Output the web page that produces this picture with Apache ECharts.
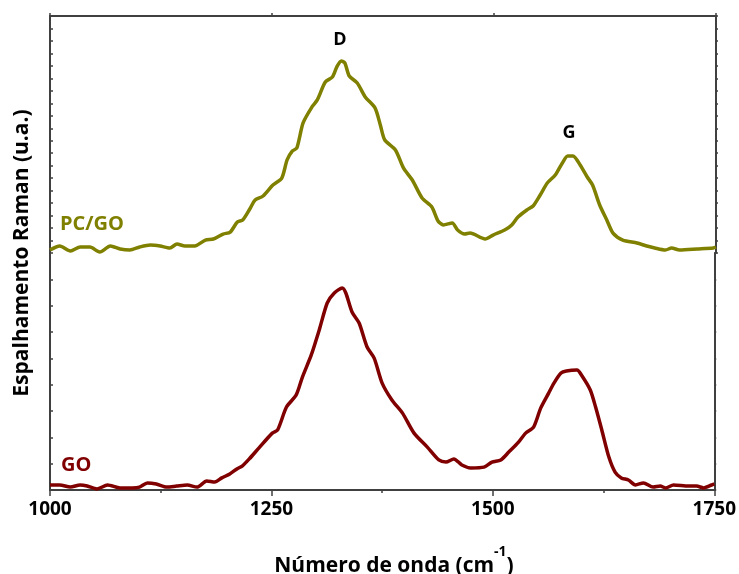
<!DOCTYPE html>
<html>
<head>
<meta charset="utf-8">
<script src="https://cdn.jsdelivr.net/npm/echarts@6/dist/echarts.min.js"></script>
<style>
html,body{margin:0;padding:0;background:#fff;}
#chart{width:739px;height:574px;}
</style>
</head>
<body>
<div id="chart"></div>
<script>
// Wavenumber axis
var xTicks = [1000, 1250, 1500, 1750];

// PC/GO spectrum (upper panel), wavenumber (cm-1) and intensity (a.u.)
var pcgoWn = [1000,1011,1023,1034,1045,1056,1068,1079,1090,1101,1113,1124,1135,1143,1152,1163,1175,1184,1195,1203,1211,1217,1225,1231,1240,1251,1261,1267,1273,1278,1285,1295,1301,1310,1318,1323,1328,1332,1337,1346,1355,1366,1372,1377,1389,1398,1408,1419,1430,1437,1443,1453,1459,1467,1473,1490,1499,1512,1520,1527,1537,1544,1552,1560,1569,1577,1583,1589,1597,1605,1611,1619,1627,1634,1645,1661,1672,1681,1693,1700,1709,1729,1747,1750];
var pcgoI  = [2.4,5.6,1.6,4.8,4.8,0.8,5.6,3.2,2.4,4.8,6.4,5.6,4.0,7.2,5.6,5.6,10.4,11.2,15.2,16.8,24.9,26.5,35.3,42.5,45.7,54.5,60.1,74.6,81.8,84.2,104.3,117.1,122.7,137.1,141.1,149.2,154.0,152.4,141.9,136.3,125.1,116.3,102.6,90.6,82.6,68.2,58.5,44.1,36.9,25.7,22.5,24.1,18.4,15.2,16.0,11.2,14.4,18.4,22.5,28.9,34.5,37.7,46.5,56.1,62.5,72.2,77.8,77.8,70.6,60.9,54.5,38.5,26.5,16.0,10.4,8.0,5.6,4.0,2.4,4.0,2.4,3.2,4.0,4.8];

// GO spectrum (lower panel)
var goWn = [1000,1011,1023,1034,1042,1053,1065,1079,1093,1101,1110,1120,1132,1143,1155,1166,1177,1186,1194,1203,1211,1217,1225,1236,1251,1257,1267,1278,1285,1295,1304,1313,1321,1330,1334,1341,1349,1358,1366,1375,1386,1398,1411,1426,1439,1447,1456,1465,1475,1490,1499,1509,1518,1529,1537,1546,1554,1563,1569,1577,1583,1595,1600,1610,1616,1623,1631,1638,1645,1653,1661,1670,1681,1689,1695,1704,1721,1730,1738,1747,1750];
var goI  = [1.9,1.9,1.1,1.9,1.5,0.4,1.9,0.8,0.8,1.1,2.7,2.3,1.1,1.5,1.9,1.1,3.4,3.0,4.6,6.1,8.0,9.1,11.8,16.0,21.6,22.8,31.5,36.1,42.9,51.3,60.8,71.0,74.8,76.7,74.8,67.6,63.4,54.3,50.1,40.6,34.2,29.2,21.6,16.3,11.4,10.6,11.8,9.5,8.4,8.7,10.6,11.4,14.4,18.2,21.6,23.9,31.1,36.8,40.6,44.4,45.2,45.6,43.7,38.0,31.5,22.8,12.5,6.8,4.6,3.8,1.9,2.7,1.1,1.5,0.8,1.9,1.5,1.5,0.8,1.9,2.3];

var seriesNames = ['PC/GO', 'GO'];
var peakNames = ['D', 'G'];
var xTitle = 'Número de onda (cm';
var xTitleSup = '-1';
var yTitle = 'Espalhamento Raman (u.a.)';

function pairs(xs, ys){ return xs.map(function(x,i){ return [x, ys[i]]; }); }

var FONT = '"Open Sans", "Liberation Sans", sans-serif';
var AX = '#404040';
var OLIVE = '#808000';
var RED = '#800000';

var chart = echarts.init(document.getElementById('chart'), null, {renderer:'canvas'});

function yAx(grid, pos, max, inside){
  return {
    type:'value', gridIndex:grid, position:pos, min:0, max:max, interval:10,
    axisLine:{show:true, onZero:false, lineStyle:{color:AX, width:2}},
    axisTick:{show:true, inside:inside, length:inside?3:2, lineStyle:{color:AX, width:1.5}},
    axisLabel:{show:false}, splitLine:{show:false}
  };
}

chart.setOption({
  animation:false,
  backgroundColor:'#fff',
  grid:[
    {left:50, right:23, top:16, height:237},
    {left:50, right:23, top:253, height:237}
  ],
  xAxis:[
    {type:'value', gridIndex:0, position:'top', min:1000, max:1750, interval:250,
     axisLine:{show:true, onZero:false, lineStyle:{color:AX, width:2}},
     axisTick:{show:true, inside:false, length:3, lineStyle:{color:AX, width:1.5}},
     axisLabel:{show:false}, splitLine:{show:false}},
    {type:'value', gridIndex:1, position:'bottom', min:1000, max:1750, interval:250,
     axisLine:{show:true, onZero:false, lineStyle:{color:AX, width:2}},
     axisTick:{show:true, inside:false, length:6, lineStyle:{color:AX, width:1.5}},
     minorTick:{show:true, splitNumber:2, length:3, lineStyle:{color:AX, width:1.5}},
     axisLabel:{show:true, margin:10, color:'#000', fontFamily:FONT, fontWeight:'bold', fontSize:19,
       formatter:function(v){ return xTicks.indexOf(v) >= 0 ? String(v) : ''; }},
     splitLine:{show:false}}
  ],
  yAxis:[
    yAx(0,'left',190,true), yAx(0,'right',190,false),
    yAx(1,'left',90,true), yAx(1,'right',90,false)
  ],
  series:[
    {name:seriesNames[0], type:'line', xAxisIndex:0, yAxisIndex:0, data:pairs(pcgoWn,pcgoI),
     showSymbol:false, smooth:0.25, lineStyle:{color:OLIVE, width:3.5}, itemStyle:{color:OLIVE}},
    {name:seriesNames[1], type:'line', xAxisIndex:1, yAxisIndex:2, data:pairs(goWn,goI),
     showSymbol:false, smooth:0.25, lineStyle:{color:RED, width:3.5}, itemStyle:{color:RED}}
  ],
  graphic:[
    {type:'text', x:340, y:40, style:{text:peakNames[0], fill:'#000', font:'bold 18px '+FONT, align:'center', verticalAlign:'middle'}},
    {type:'text', x:569, y:133, style:{text:peakNames[1], fill:'#000', font:'bold 18px '+FONT, align:'center', verticalAlign:'middle'}},
    {type:'text', x:60, y:224, style:{text:seriesNames[0], fill:OLIVE, font:'bold 20px '+FONT, align:'left', verticalAlign:'middle'}},
    {type:'text', x:61, y:465, style:{text:seriesNames[1], fill:RED, font:'bold 20px '+FONT, align:'left', verticalAlign:'middle'}},
    {type:'text', x:22, y:253, rotation:Math.PI/2, style:{text:yTitle, fill:'#000', font:'bold 21px '+FONT, align:'center', verticalAlign:'middle'}},
    {type:'text', x:394, y:561, style:{
      text:'{a|'+xTitle+'}{s|'+xTitleSup+'}{a|)}', align:'center', verticalAlign:'middle',
      rich:{
        a:{fontFamily:FONT, fontWeight:'bold', fontSize:21, fill:'#000', color:'#000', lineHeight:32, verticalAlign:'bottom'},
        s:{fontFamily:FONT, fontWeight:'bold', fontSize:14, fill:'#000', color:'#000', verticalAlign:'top'}
      }}}
  ]
});
</script>
</body>
</html>
